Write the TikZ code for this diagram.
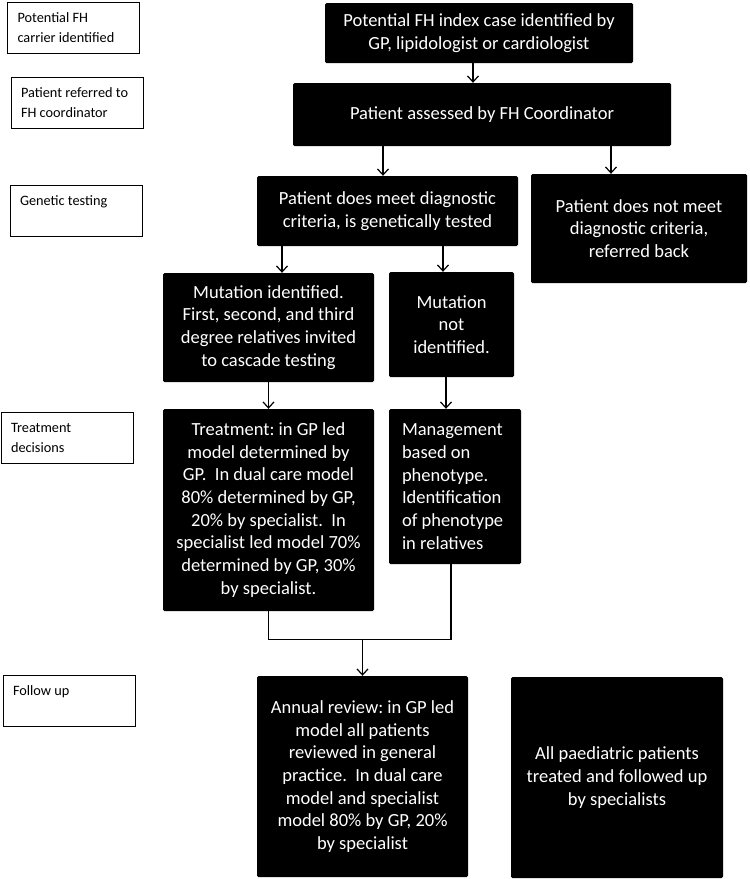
\documentclass[tikz,border=0pt]{standalone}
\usepackage{fontspec}
\setmainfont{Carlito}
\frenchspacing
\usetikzlibrary{arrows.meta}

\begin{document}
\begin{tikzpicture}[x=1pt,y=-1pt,
    blk/.style={fill=black, text=white, rounded corners=1.5pt, inner sep=0pt, align=center,
      font=\fontsize{18.5}{22.7}\selectfont},
    lab/.style={draw, line width=1pt, fill=white, align=flush left, text width=112pt, inner xsep=10pt,
      inner ysep=0pt, minimum height=51pt, font=\fontsize{14.3}{20}\selectfont},
    arr/.style={line width=1.2pt, -{Straight Barb[length=6pt,width=11pt,line width=1.2pt]}},
    con/.style={line width=1.2pt}]
      \useasboundingbox (0,0) rectangle (750,879);
      % stage labels on the left
      \node[lab] (carrier) at (73.5,28) {Potential FH\\carrier identified};
      \node[lab] (referred) at (77,102.5) {Patient referred to\\FH coordinator};
      \node[lab] (genetic) at (76,210.5) {Genetic testing\\\mbox{}};
      \node[lab] (treat) at (67,437.5) {Treatment\\decisions};
      \node[lab] (follow) at (69,700.5) {Follow up\\\mbox{}};
      % flow boxes
      \node[blk, minimum width=308pt, minimum height=60pt] (index) at (479,33)
        {Potential FH index case identified by\\GP, lipidologist or cardiologist};
      \node[blk, minimum width=378pt, minimum height=63pt] (assess) at (482,114.5)
        {Patient assessed by FH Coordinator};
      \node[blk, minimum width=261pt, minimum height=70pt] (meet) at (387.5,211)
        {Patient does meet diagnostic\\criteria, is genetically tested};
      \node[blk, minimum width=216pt, minimum height=109pt] (notmeet) at (639,228.5)
        {Patient does not meet\\diagnostic criteria,\\referred back};
      \node[blk, minimum width=211pt, minimum height=109pt] (mutyes) at (268.5,327.5)
        {Mutation identified.\\First, second, and third\\degree relatives invited\\to cascade testing};
      \node[blk, minimum width=125pt, minimum height=105pt] (mutno) at (451.5,324.5)
        {Mutation\\not\\identified.};
      \node[blk, minimum width=211pt, minimum height=202pt] (treatment) at (268.5,510)
        {Treatment: in GP led\\model determined by\\GP.\ \ In dual care model\\80\% determined by GP,\\20\% by specialist.\ \ In\\specialist led model 70\%\\determined by GP, 30\%\\by specialist.};
      \node[blk, align=flush left, text width=106pt, inner xsep=13pt, minimum height=155pt] (pheno) at (455,486.5)
        {Management\\based on\\phenotype.\\Identification\\of phenotype\\in relatives};
      \node[blk, minimum width=211pt, minimum height=201pt] (annual) at (362.5,776.5)
        {Annual review: in GP led\\model all patients\\reviewed in general\\practice.\ \ In dual care\\model and specialist\\model 80\% by GP, 20\%\\by specialist};
      \node[blk, minimum width=212pt, minimum height=201pt] (paed) at (617,777.5)
        {All paediatric patients\\treated and followed up\\by specialists};
      % connectors
      \draw[arr] ([xshift=-6pt]index.south) -- ([xshift=-6pt]index.south |- assess.north);
      \draw[arr] ([xshift=-4.5pt]meet.north |- assess.south) -- ([xshift=-4.5pt]meet.north);
      \draw[arr] ([xshift=-28pt]notmeet.north |- assess.south) -- ([xshift=-28pt]notmeet.north);
      \draw[arr] ([xshift=13.5pt]mutyes.north |- meet.south) -- ([xshift=13.5pt]mutyes.north);
      \draw[arr] ([xshift=-8.5pt]mutno.north |- meet.south) -- ([xshift=-8.5pt]mutno.north);
      \draw[arr] (mutyes.south) -- (treatment.north);
      \draw[arr] ([xshift=-5.5pt]mutno.south) -- ([xshift=-5.5pt]mutno.south |- pheno.north);
      \coordinate (merge) at ([yshift=36pt]annual.north);
      \draw[con] (treatment.south) |- ([xshift=-4pt]pheno.south |- merge) -- ([xshift=-4pt]pheno.south);
      \draw[arr] (merge) -- (annual.north);
\end{tikzpicture}
\end{document}
